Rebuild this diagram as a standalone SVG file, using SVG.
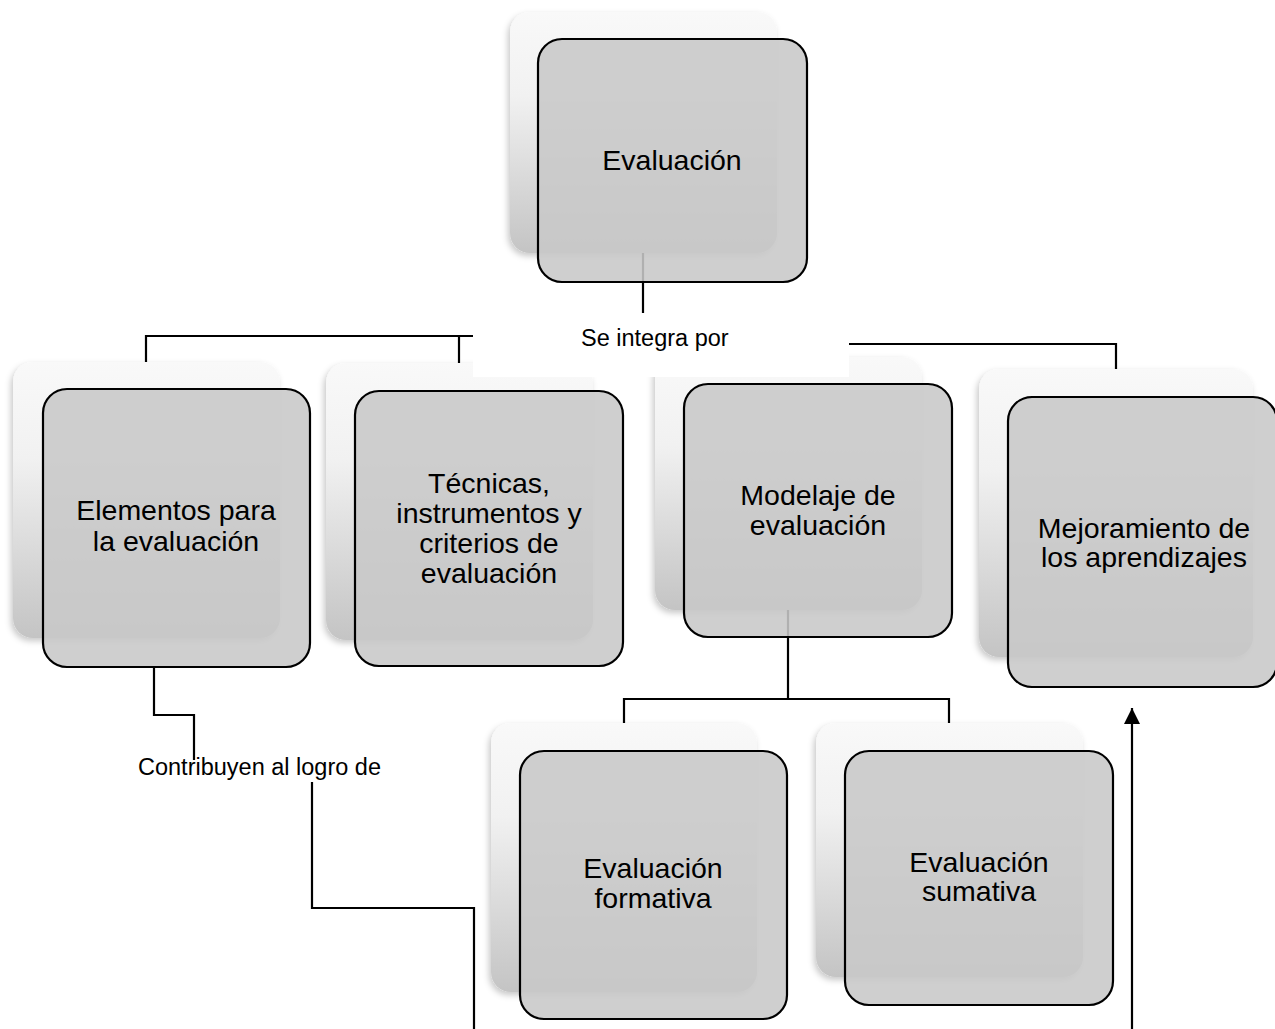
<svg xmlns="http://www.w3.org/2000/svg" width="1275" height="1029" viewBox="0 0 1275 1029">
<defs>
<linearGradient id="cardGrad" x1="0" y1="0" x2="0" y2="1">
<stop offset="0" stop-color="#f9f9f9"/>
<stop offset="0.35" stop-color="#f1f1f1"/>
<stop offset="1" stop-color="#c4c4c4"/>
</linearGradient>
<filter id="soft" x="-10%" y="-10%" width="120%" height="120%">
<feDropShadow dx="-2" dy="3" stdDeviation="3" flood-color="#000" flood-opacity="0.22"/>
</filter>
<marker id="arrow" markerWidth="16" markerHeight="16" refX="16" refY="8" orient="auto" markerUnits="userSpaceOnUse" viewBox="0 0 16 16">
<path d="M0,0 L16,8 L0,16 z" fill="#000"/>
</marker>
</defs>
<style>
.card{fill:url(#cardGrad);filter:url(#soft);}
.box{fill:#c8c8c8;fill-opacity:0.88;stroke:#000;stroke-width:2.2;}
.t{font-family:"Liberation Sans",Arial,sans-serif;font-size:28.5px;fill:#000;text-anchor:middle;}
.lbl{font-family:"Liberation Sans",Arial,sans-serif;font-size:23.5px;fill:#000;}
.c{fill:none;stroke:#000;stroke-width:2.2;}
</style>
<rect width="1275" height="1029" fill="#fff"/>

<g id="connectors">
<path class="c" d="M643,253 V313"/>
<path class="c" d="M146,362 V336 H473"/>
<path class="c" d="M459,363 V336"/>
<path class="c" d="M849,344 H1116 V369"/>
<path class="c" d="M788,610 V699"/>
<path class="c" d="M624,723 V699 H949 V723"/>
<path class="c" d="M154,667 V715 H194 V760"/>
<path class="c" d="M312,782 V908 H474 V1029"/>
<path class="c" d="M1132,1029 V708" marker-end="url(#arrow)"/>
</g>

<g id="node-evaluacion">
<rect class="card" x="510" y="12" width="267" height="241" rx="20"/>
<rect class="box" x="538" y="39" width="269" height="243" rx="24"/>
<text class="t" x="672" y="170">Evaluación</text>
</g>

<g id="node-elementos">
<rect class="card" x="13" y="362" width="267" height="276" rx="20"/>
<rect class="box" x="43" y="389" width="267" height="278" rx="24"/>
<text class="t" x="176" y="520">Elementos para</text>
<text class="t" x="176" y="551">la evaluación</text>
</g>

<g id="node-tecnicas">
<rect class="card" x="326" y="363" width="267" height="277" rx="20"/>
<rect class="box" x="355" y="391" width="268" height="275" rx="24"/>
<text class="t" x="489" y="493">Técnicas,</text>
<text class="t" x="489" y="523">instrumentos y</text>
<text class="t" x="489" y="553">criterios de</text>
<text class="t" x="489" y="583">evaluación</text>
</g>

<g id="node-modelaje">
<rect class="card" x="655" y="357" width="267" height="253" rx="20"/>
<rect class="box" x="684" y="384" width="268" height="253" rx="24"/>
<text class="t" x="818" y="505">Modelaje de</text>
<text class="t" x="818" y="535">evaluación</text>
</g>

<g id="label-se-integra">
<rect x="473" y="313" width="376" height="64" fill="#fff"/>
<text class="lbl" x="581" y="346">Se integra por</text>
</g>

<g id="node-mejoramiento">
<rect class="card" x="979" y="369" width="274" height="288" rx="20"/>
<rect class="box" x="1008" y="397" width="269" height="290" rx="24"/>
<text class="t" x="1144" y="538">Mejoramiento de</text>
<text class="t" x="1144" y="567">los aprendizajes</text>
</g>

<g id="node-formativa">
<rect class="card" x="491" y="723" width="266" height="269" rx="20"/>
<rect class="box" x="520" y="751" width="267" height="268" rx="24"/>
<text class="t" x="653" y="878">Evaluación</text>
<text class="t" x="653" y="908">formativa</text>
</g>

<g id="node-sumativa">
<rect class="card" x="816" y="723" width="267" height="254" rx="20"/>
<rect class="box" x="845" y="751" width="268" height="254" rx="24"/>
<text class="t" x="979" y="872">Evaluación</text>
<text class="t" x="979" y="901">sumativa</text>
</g>

<g id="label-contribuyen">
<text class="lbl" x="138" y="775">Contribuyen al logro de</text>
</g>
</svg>
